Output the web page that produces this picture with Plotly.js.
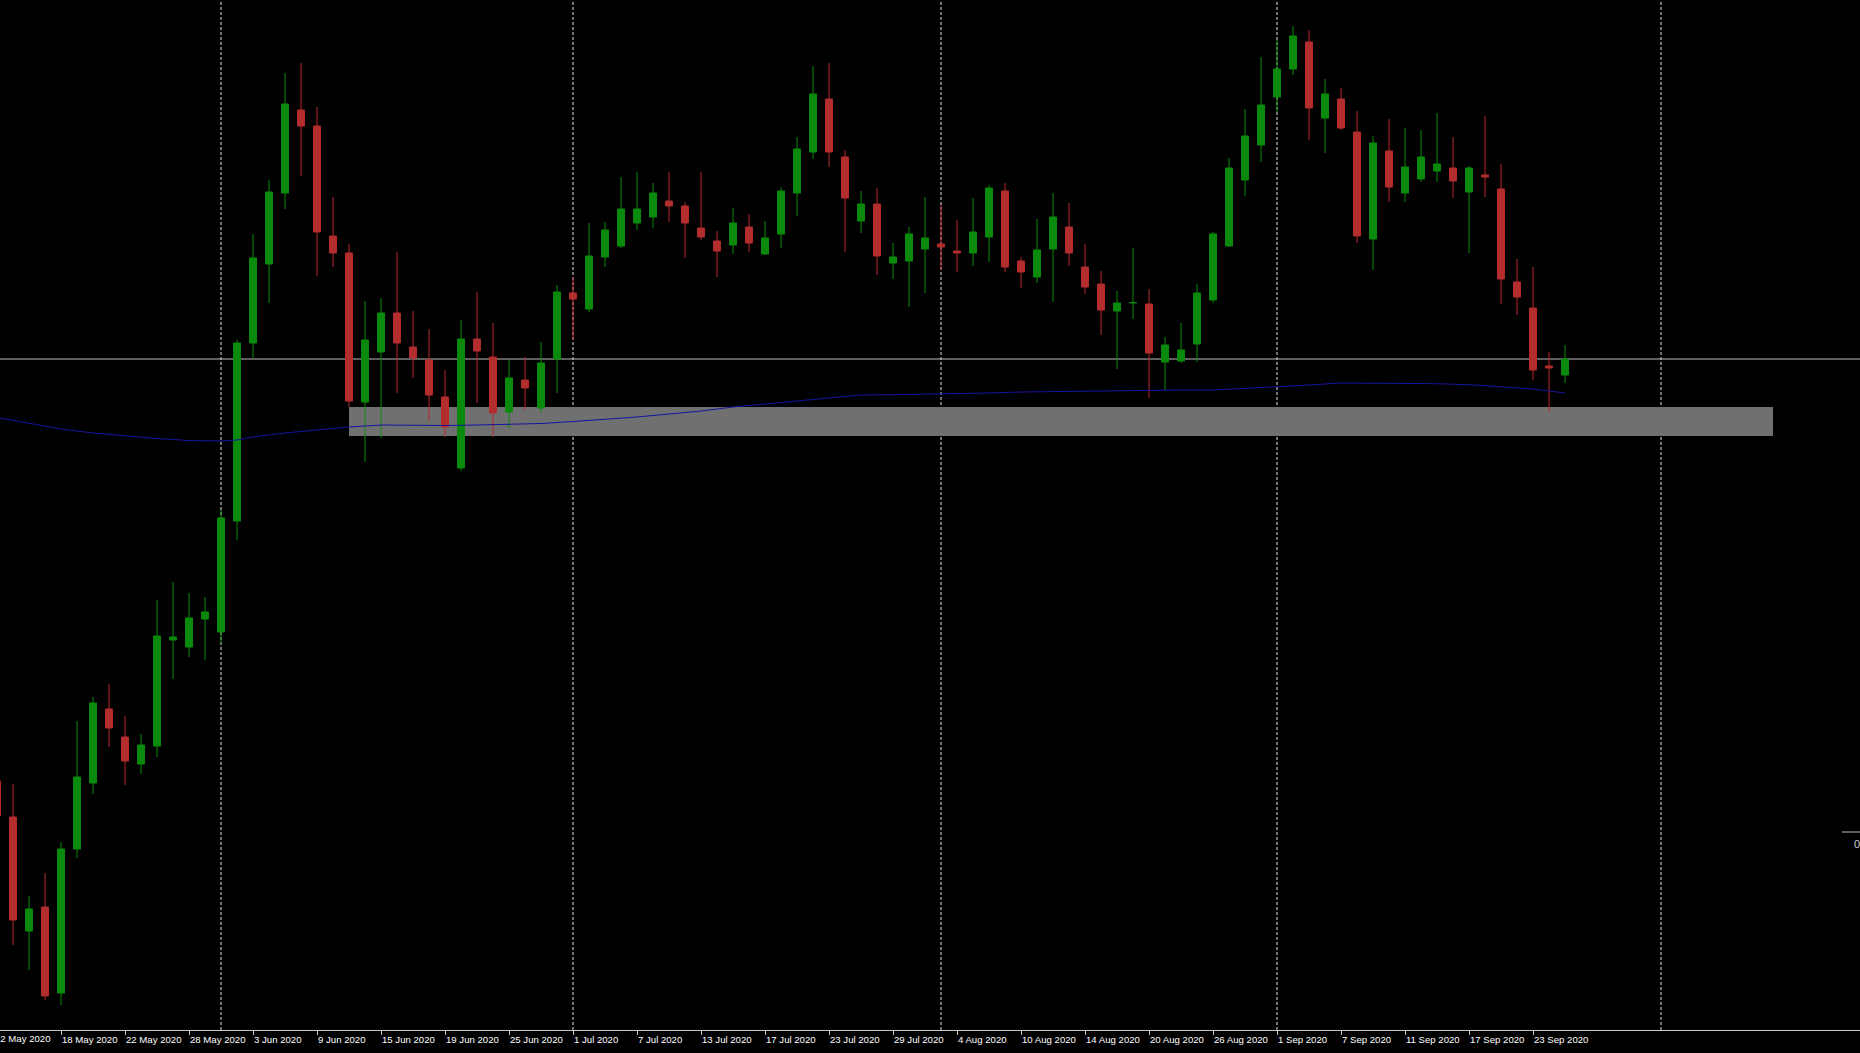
<!DOCTYPE html>
<html>
<head>
<meta charset="utf-8">
<script src="https://cdn.plot.ly/plotly-3.0.1.min.js"></script>
<style>
  html, body { margin: 0; padding: 0; background: #000; overflow: hidden; }
  #chart { width: 1860px; height: 1053px; }
</style>
</head>
<body>
<div id="chart"></div>
<script>
// Daily bars (weekdays), 12 May 2020 .. 25 Sep 2020
const dates = [
  "12 May 2020","13 May 2020","14 May 2020","15 May 2020","18 May 2020","19 May 2020","20 May 2020","21 May 2020","22 May 2020","25 May 2020","26 May 2020","27 May 2020","28 May 2020","29 May 2020",
  "1 Jun 2020","2 Jun 2020","3 Jun 2020","4 Jun 2020","5 Jun 2020","8 Jun 2020","9 Jun 2020","10 Jun 2020","11 Jun 2020","12 Jun 2020","15 Jun 2020","16 Jun 2020","17 Jun 2020","18 Jun 2020","19 Jun 2020","22 Jun 2020","23 Jun 2020","24 Jun 2020","25 Jun 2020","26 Jun 2020","29 Jun 2020","30 Jun 2020",
  "1 Jul 2020","2 Jul 2020","3 Jul 2020","6 Jul 2020","7 Jul 2020","8 Jul 2020","9 Jul 2020","10 Jul 2020","13 Jul 2020","14 Jul 2020","15 Jul 2020","16 Jul 2020","17 Jul 2020","20 Jul 2020","21 Jul 2020","22 Jul 2020","23 Jul 2020","24 Jul 2020","27 Jul 2020","28 Jul 2020","29 Jul 2020","30 Jul 2020","31 Jul 2020",
  "3 Aug 2020","4 Aug 2020","5 Aug 2020","6 Aug 2020","7 Aug 2020","10 Aug 2020","11 Aug 2020","12 Aug 2020","13 Aug 2020","14 Aug 2020","17 Aug 2020","18 Aug 2020","19 Aug 2020","20 Aug 2020","21 Aug 2020","24 Aug 2020","25 Aug 2020","26 Aug 2020","27 Aug 2020","28 Aug 2020","31 Aug 2020",
  "1 Sep 2020","2 Sep 2020","3 Sep 2020","4 Sep 2020","7 Sep 2020","8 Sep 2020","9 Sep 2020","10 Sep 2020","11 Sep 2020","14 Sep 2020","15 Sep 2020","16 Sep 2020","17 Sep 2020","18 Sep 2020","21 Sep 2020","22 Sep 2020","23 Sep 2020","24 Sep 2020","25 Sep 2020"
];

const openP  = [319,283,169,193,107,251,317,391,363,336,354,460,453,481,
  468,579,757,836,907,990,974,864,847,698,748,787,753,740,703,632,761,743,688,720,692,741,
  807,791,843,854,877,883,899,894,872,859,855,873,846,866,907,948,1001,943,879,896,837,839,851,
  856,849,847,863,909,839,823,851,873,833,816,789,797,796,738,739,756,800,854,920,955,
  1003,1031,1058,982,1001,968,861,949,907,921,929,932,908,925,911,818,792,734,725];
const highP  = [322,316,204,227,258,379,403,416,384,366,500,518,507,503,
  590,760,866,920,1027,1037,993,903,856,799,802,848,789,771,730,780,808,777,740,743,758,815,
  823,877,878,923,928,917,928,898,928,869,892,886,879,913,963,1034,1037,950,909,912,857,873,903,
  895,880,902,915,917,843,881,907,897,856,829,809,852,811,763,777,816,868,942,991,1043,
  1060,1074,1070,1021,1012,989,964,981,972,970,987,963,934,984,936,841,833,748,755];
const lowP   = [280,155,130,100,95,242,306,353,315,326,343,421,443,440,
  457,560,742,797,891,924,824,833,693,638,662,707,722,679,663,629,697,663,672,690,687,707,
  760,788,833,852,870,872,878,842,860,823,846,848,845,852,884,941,933,848,867,825,821,793,807,
  830,828,834,838,828,812,817,798,834,806,765,731,781,702,710,737,738,797,853,904,938,
  988,1025,960,947,970,857,830,898,898,918,918,902,847,903,796,785,720,688,717];
const closeP = [284,180,191,104,251,323,397,372,339,355,464,463,482,488,
  582,757,842,908,996,974,868,847,699,760,787,757,742,705,673,761,749,687,722,712,737,808,
  801,844,870,891,891,907,894,877,863,849,877,857,862,909,951,1006,948,902,896,844,843,866,862,
  853,847,868,912,833,828,850,883,847,813,790,797,797.5,747,755,750,807,866,932,964,995,
  1031,1064,992,1006,972,864,957,913,933,943,936,919,932,923,821,803,730,732,741];

// Moving average (read at sample bars)
const maDates = ["12 May 2020","14 May 2020","18 May 2020","20 May 2020","22 May 2020","26 May 2020","28 May 2020","1 Jun 2020","2 Jun 2020","3 Jun 2020","5 Jun 2020","9 Jun 2020","11 Jun 2020","15 Jun 2020","17 Jun 2020","19 Jun 2020","23 Jun 2020","25 Jun 2020","29 Jun 2020","1 Jul 2020","3 Jul 2020","7 Jul 2020","9 Jul 2020","13 Jul 2020","15 Jul 2020","17 Jul 2020","21 Jul 2020","23 Jul 2020","27 Jul 2020","29 Jul 2020","31 Jul 2020","4 Aug 2020","6 Aug 2020","10 Aug 2020","12 Aug 2020","14 Aug 2020","18 Aug 2020","20 Aug 2020","24 Aug 2020","26 Aug 2020","28 Aug 2020","1 Sep 2020","3 Sep 2020","7 Sep 2020","9 Sep 2020","11 Sep 2020","15 Sep 2020","17 Sep 2020","21 Sep 2020","23 Sep 2020","25 Sep 2020"];
const maValues = [682.5,677,671,667,664,661.5,659.5,659,660,663,667,670,673,675,674.5,674.5,675,675.5,676.5,678.5,680.5,683,686,689,693,696,699,702,705,705.3,705.7,706,707,708,708.5,709,709.5,709.7,710,710,711.5,713,715,717,717,717,716.3,715.3,713.5,711,707];

// Tick labels
const tickDates = ["18 May 2020","22 May 2020","28 May 2020","3 Jun 2020","9 Jun 2020","15 Jun 2020","19 Jun 2020","25 Jun 2020","1 Jul 2020","7 Jul 2020","13 Jul 2020","17 Jul 2020","23 Jul 2020","29 Jul 2020","4 Aug 2020","10 Aug 2020","14 Aug 2020","20 Aug 2020","26 Aug 2020","1 Sep 2020","7 Sep 2020","11 Sep 2020","17 Sep 2020","23 Sep 2020"];
const firstLabel = "12 May 2020";

// Month separators
const monthStarts = ["1 Jun 2020","1 Jul 2020","3 Aug 2020","1 Sep 2020"];

// Support zone & current price
const zoneStart = "11 Jun 2020";
const zoneLow = 664, zoneHigh = 693;
const lastPrice = closeP[closeP.length - 1];

const idx = d => dates.indexOf(d);
const xs = dates.map((d, i) => i);
const nBars = dates.length;

const fontFam = '"Liberation Sans Narrow", "Liberation Sans", Arial, sans-serif';
const labelFont = {family: fontFam, size: 9.6, color: '#ffffff'};

const shapes = [];
shapes.push({type:'rect', layer:'below', xref:'x', yref:'y',
  x0: idx(zoneStart), x1: nBars + 12, y0: zoneLow, y1: zoneHigh,
  fillcolor:'#707070', line:{width:0}});
monthStarts.map(idx).concat([nBars + 5]).forEach(x => {
  shapes.push({type:'line', layer:'below', xref:'x', yref:'paper', x0:x, x1:x, y0:0, y1:1,
    line:{color:'#e6e6e6', width:1, dash:'3px,2px'}});
});
shapes.push({type:'line', layer:'below', xref:'paper', yref:'y', x0:0, x1:1, y0:lastPrice, y1:lastPrice,
  line:{color:'#bdbdbd', width:1}});
shapes.push({type:'line', layer:'above', xref:'paper', yref:'paper', x0:1842/1860, x1:1, y0:1-832/1030, y1:1-832/1030,
  line:{color:'#bdbdbd', width:1}});

const traces = [
  {
    type:'candlestick', x: xs, open: openP, high: highP, low: lowP, close: closeP,
    increasing:{line:{color:'#0a8a0a', width:1}, fillcolor:'#0a8a0a'},
    decreasing:{line:{color:'#b42d2d', width:1}, fillcolor:'#b42d2d'},
    whiskerwidth: 0, hoverinfo:'skip', showlegend:false
  },
  {
    type:'scatter', mode:'lines', x: maDates.map(idx), y: maValues,
    line:{color:'#1414a0', width:1}, hoverinfo:'skip', showlegend:false
  }
];

const layout = {
  width:1860, height:1053,
  paper_bgcolor:'#000000', plot_bgcolor:'#000000',
  margin:{l:0, r:0, t:0, b:23, pad:0},
  showlegend:false,
  boxgap:0.38,
  xaxis:{
    type:'linear', range:[0.1875, 116.4375], showgrid:false, zeroline:false,
    showline:true, linecolor:'#c8c8c8', linewidth:1,
    ticks:'outside', ticklen:4, tickcolor:'#c8c8c8', tickwidth:1,
    tickvals: tickDates.map(idx), ticktext: tickDates,
    ticklabelposition:'outside right', tickangle:0,
    tickfont: labelFont,
    rangeslider:{visible:false}, fixedrange:true
  },
  yaxis:{range:[70, 1100], visible:false, fixedrange:true},
  shapes: shapes,
  annotations:[
    {xref:'paper', yref:'paper', x:-7/1860, y:-8.5/1030, xanchor:'left', yanchor:'middle',
     text:firstLabel, showarrow:false, font:labelFont},
    {xref:'paper', yref:'paper', x:1852/1860, y:1-844/1030, xanchor:'left', yanchor:'middle',
     text:'0', showarrow:false, font:{family:fontFam, size:11, color:'#cfcfcf'}}
  ]
};

Plotly.newPlot('chart', traces, layout, {staticPlot:true, displayModeBar:false});
</script>
</body>
</html>
